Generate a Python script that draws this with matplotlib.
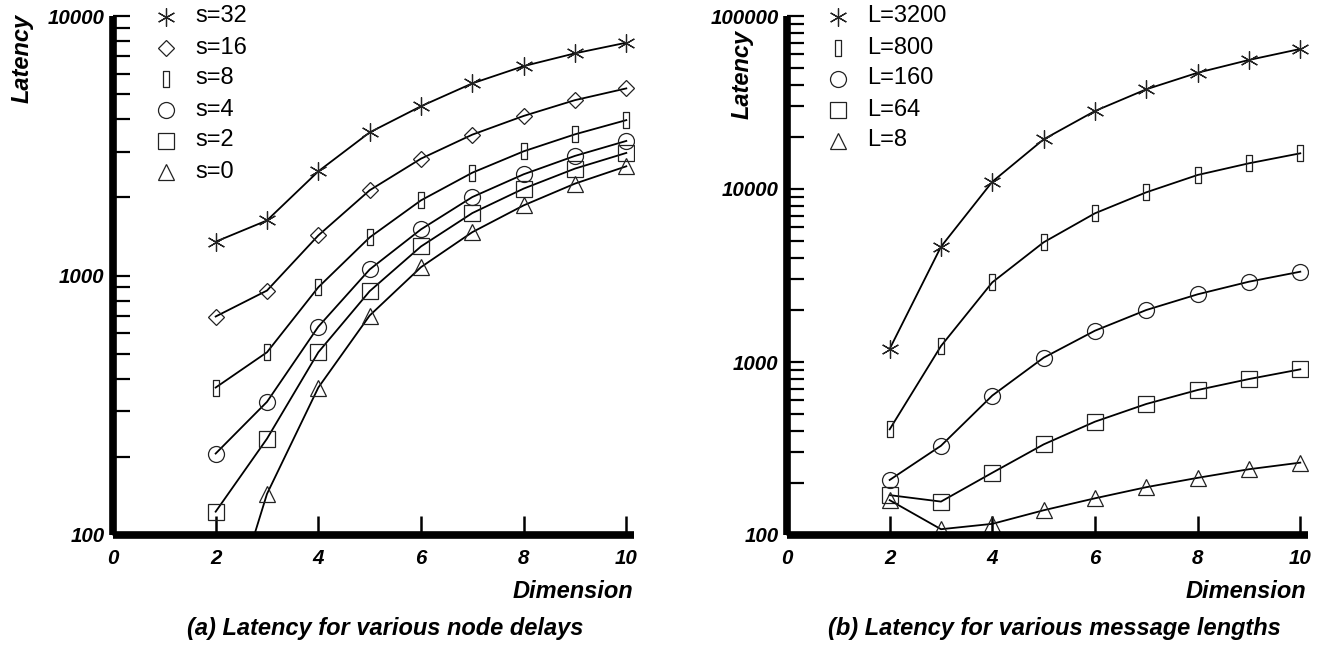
import matplotlib
matplotlib.use("Agg")
import matplotlib.pyplot as plt
from matplotlib.path import Path
from matplotlib.ticker import LogLocator, FixedLocator, FuncFormatter, NullFormatter

# ---- data -------------------------------------------------------------
dims = [2, 3, 4, 5, 6, 7, 8, 9, 10]

node_delay_labels = ["s=32", "s=16", "s=8", "s=4", "s=2", "s=0"]
lat_s32 = [1350, 1630, 2520, 3560, 4490, 5500, 6410, 7180, 7890]
lat_s16 = [695, 875, 1427, 2130, 2820, 3490, 4120, 4740, 5260]
lat_s8 = [370, 506, 901, 1402, 1948, 2490, 3010, 3500, 3970]
lat_s4 = [206, 326, 635, 1055, 1506, 2006, 2455, 2890, 3300]
lat_s2 = [123, 235, 506, 870, 1294, 1740, 2162, 2582, 2967]
lat_s0 = [33, 144, 370, 701, 1077, 1469, 1863, 2260, 2635]

msg_len_labels = ["L=3200", "L=800", "L=160", "L=64", "L=8"]
lat_L3200 = [1190, 4640, 11020, 19370, 28240, 37700, 47000, 55700, 64500]
lat_L800 = [408, 1237, 2888, 4920, 7237, 9570, 12050, 14080, 16080]
lat_L160 = [208, 328, 640, 1059, 1517, 1998, 2462, 2912, 3326]
lat_L64 = [170, 156, 229, 334, 452, 572, 689, 797, 907]
lat_L8 = [159, 108, 116, 139, 163, 189, 214, 240, 262]

x_ticks = [0, 2, 4, 6, 8, 10]

# ---- styling ------------------------------------------------------------
W, H = 1332, 647
FONT = "Liberation Sans"
plt.rcParams["font.family"] = FONT
plt.rcParams["font.weight"] = "bold"
plt.rcParams["font.style"] = "italic"

asterisk = (6, 2, 0)
slim_rect = Path([(-0.2, -0.5), (0.2, -0.5), (0.2, 0.5), (-0.2, 0.5), (-0.2, -0.5)],
                 [Path.MOVETO, Path.LINETO, Path.LINETO, Path.LINETO, Path.CLOSEPOLY])
MARKERS = {
    "ast": dict(marker=asterisk, ms=13),
    "dia": dict(marker="D", ms=8.2),
    "rect": dict(marker=slim_rect, ms=11),
    "circ": dict(marker="o", ms=11.5),
    "sq": dict(marker="s", ms=11.5),
    "tri": dict(marker="^", ms=11.5),
}


def fig_xy(px, py):
    return px / W, 1 - py / H


fig = plt.figure(figsize=(W / 100, H / 100), dpi=100)
fig.patch.set_facecolor("white")


def make_axes(left_px, right_px, top_px, bottom_px, ylim):
    l, b = fig_xy(left_px, bottom_px)
    r, t = fig_xy(right_px, top_px)
    ax = fig.add_axes([l, b, r - l, t - b])
    ax.set_yscale("log")
    ax.set_ylim(*ylim)
    ax.set_xlim(0, 10.15)
    for side in ("top", "right"):
        ax.spines[side].set_visible(False)
    for side in ("left", "bottom"):
        ax.spines[side].set_linewidth(5.5)
        ax.spines[side].set_zorder(5)
        ax.spines[side].set_capstyle("butt")
    ax.xaxis.set_major_locator(FixedLocator(x_ticks))
    ax.yaxis.set_major_locator(LogLocator(base=10))
    ax.yaxis.set_minor_locator(LogLocator(base=10, subs=range(2, 10)))
    ax.yaxis.set_minor_formatter(NullFormatter())
    ax.yaxis.set_major_formatter(FuncFormatter(lambda v, p: f"{int(round(v))}"))
    ax.tick_params(axis="y", which="both", direction="in", length=12, width=1.6,
                   pad=6, color="black", labelsize=14.8)
    ax.tick_params(axis="x", which="major", direction="in", length=13.5, width=1.8,
                   pad=10, labelsize=14.8)
    ax.set_facecolor("none")
    return ax


def draw_series(ax, ys, mkey):
    m = MARKERS[mkey]
    ax.plot(dims, ys, color="black", lw=1.3, marker=m["marker"], ms=m["ms"],
            mfc="none", mec="#222222", mew=0.9, zorder=3)


def draw_key(ax, labels, mkeys, marker_px, text_px, first_py, step_py):
    for i, (lab, mk) in enumerate(zip(labels, mkeys)):
        py = first_py + i * step_py
        m = MARKERS[mk]
        mx, my = fig_xy(marker_px, py)
        ax.plot([mx], [my], transform=fig.transFigure, clip_on=False, ls="none",
                marker=m["marker"], ms=m["ms"], mfc="none", mec="#222222", mew=0.9)
        tx, ty = fig_xy(text_px, py)
        fig.text(tx, ty, lab, fontsize=17, fontweight="normal", fontstyle="normal",
                 va="center", ha="left")


def bold_it(px, py, s, **kw):
    x, y = fig_xy(px, py)
    fig.text(x, y, s, fontweight="bold", fontstyle="italic", **kw)


# ---- (a) node delays ------------------------------------------------------
ax1 = make_axes(113, 634, 16, 535, (100, 10000))
series_a = [lat_s32, lat_s16, lat_s8, lat_s4, lat_s2, lat_s0]
keys_a = ["ast", "dia", "rect", "circ", "sq", "tri"]
for ys, k in zip(series_a, keys_a):
    draw_series(ax1, ys, k)
draw_key(ax1, node_delay_labels, keys_a, 166, 195, 16.5, 31)

# ---- (b) message lengths --------------------------------------------------
ax2 = make_axes(787, 1308, 16, 535, (100, 100000))
series_b = [lat_L3200, lat_L800, lat_L160, lat_L64, lat_L8]
keys_b = ["ast", "rect", "circ", "sq", "tri"]
for ys, k in zip(series_b, keys_b):
    draw_series(ax2, ys, k)
draw_key(ax2, msg_len_labels, keys_b, 838, 867, 16.5, 31)

# ---- axis titles and captions --------------------------------------------
bold_it(22, 58, "Latency", fontsize=17, rotation=90, ha="center", va="center")
bold_it(742, 74, "Latency", fontsize=17, rotation=90, ha="center", va="center")
bold_it(633, 592, "Dimension", fontsize=17, ha="right", va="center")
bold_it(1306, 592, "Dimension", fontsize=17, ha="right", va="center")
bold_it(385, 628, "(a) Latency for various node delays", fontsize=17,
        ha="center", va="center")
bold_it(1054, 628, "(b) Latency for various message lengths", fontsize=17,
        ha="center", va="center")

fig.savefig("out.png", dpi=100)
